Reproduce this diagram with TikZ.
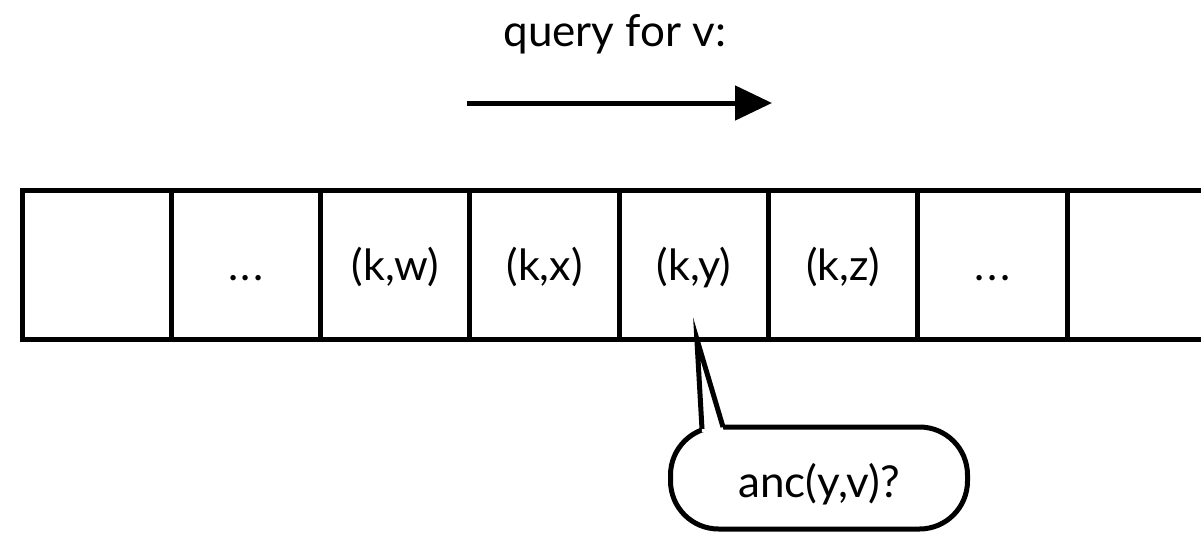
\documentclass[tikz,border=0pt]{standalone}
\usepackage{fontspec}
\setmainfont{Lato}
\usetikzlibrary{arrows.meta,calc}
\newcommand{\gapdots}{.\kern2.5pt.\kern2.5pt.}
\tikzset{
  cell/.style={draw, line width=5pt, outer sep=0pt, minimum width=149.3pt,
    minimum height=149pt, inner sep=0pt, text height=31pt, text depth=0pt,
    font=\fontsize{43}{49}\selectfont, anchor=west},
  heading/.style={font=\fontsize{44}{50}\selectfont, inner sep=0pt},
  bubble/.style={draw, line width=5pt, outer sep=0pt, rounded corners=48pt,
    minimum width=297pt, minimum height=102pt, inner sep=0pt,
    text height=38pt, text depth=0pt, font=\fontsize{44}{50}\selectfont},
  flow/.style={line width=5pt, -{Triangle[length=37pt,width=34pt]}}
}
\begin{document}
\begin{tikzpicture}[x=1pt,y=-1pt]
\useasboundingbox (0,0) rectangle (1201,533);
% row of slots
\node[cell] (c1) at (22,264.5) {};
\node[cell] (c2) at (c1.east) {\gapdots};
\node[cell] (c3) at (c2.east) {(k,w)};
\node[cell] (c4) at (c3.east) {(k,x)};
\node[cell] (c5) at (c4.east) {(k,y)};
\node[cell] (c6) at (c5.east) {(k,z)};
\node[cell] (c7) at (c6.east) {\gapdots};
\node[cell] (c8) at (c7.east) {};
% scan direction
\node[heading, anchor=base] (q) at (615,46) {query for v:};
\coordinate (astart) at (467,103);
\coordinate (aend) at (772,103);
\draw[flow] (astart) -- (aend);
% speech bubble
\node[bubble] (b) at (819,478) {anc(y,v)?};
\coordinate (tip) at ($(c5.south)+(3,0)$);
\coordinate (bl) at (702,432);
\coordinate (br) at (724,432);
\fill[white] (bl) -- (tip) -- (br) -- cycle;
\draw[line width=5pt, line join=miter] ($(bl)+(0,-3)$) -- (tip) -- ($(br)+(-1,-5)$);
\end{tikzpicture}
\end{document}
